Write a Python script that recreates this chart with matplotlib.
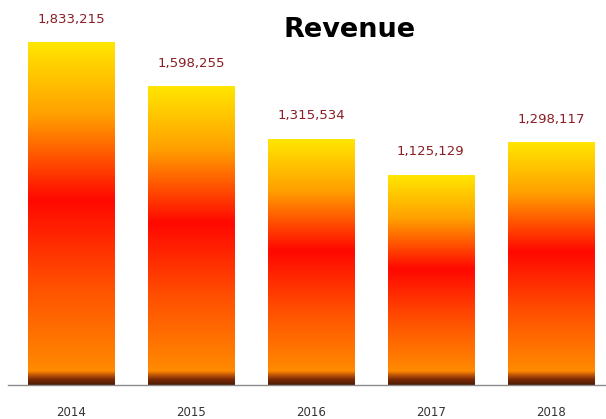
import numpy as np
import matplotlib
matplotlib.use("Agg")
import matplotlib.pyplot as plt
from matplotlib.colors import LinearSegmentedColormap

years = ["2014", "2015", "2016", "2017", "2018"]
revenue = [1833215, 1598255, 1315534, 1125129, 1298117]

# vertical fill: yellow top, red middle, orange toward the base
fill = LinearSegmentedColormap.from_list(
    "fill",
    [(0.0, "#ffe600"), (0.22, "#ffa000"), (0.48, "#ff0800"),
     (0.75, "#ff5200"), (1.0, "#ff8a00")],
)
base = LinearSegmentedColormap.from_list(
    "base", [(0.0, "#ff8a00"), (0.25, "#c65a08"), (0.6, "#7a2a05"), (1.0, "#4a1a04")]
)

fig = plt.figure(figsize=(6.06, 4.19), dpi=100)
ax = fig.add_axes([8 / 606, 34 / 419, 598 / 606, 385 / 419])

x = np.arange(len(years))
width = 0.72
ymax = 2063700
band = 75000  # dark strip at the foot of each bar

grad = np.linspace(0, 1, 256).reshape(-1, 1)
for xi, val in zip(x, revenue):
    left, right = xi - width / 2, xi + width / 2
    ax.imshow(grad, cmap=fill, aspect="auto", origin="upper",
              extent=(left, right, band, val), zorder=2, interpolation="bicubic")
    ax.imshow(grad, cmap=base, aspect="auto", origin="upper",
              extent=(left, right, 0, band), zorder=2, interpolation="bicubic")
    ax.text(xi, val + 0.045 * ymax, f"{val:,}", ha="center", va="bottom",
            fontsize=9.5, color="#8a1c24", family="DejaVu Sans")

ax.set_xlim(-0.525, 4.46)
ax.set_ylim(0, ymax)
ax.set_xticks(x)
ax.set_xticklabels(years, fontsize=8.5, color="#333333")
ax.tick_params(axis="x", length=0, pad=15)
ax.set_yticks([])
for side in ["top", "left", "right"]:
    ax.spines[side].set_visible(False)
ax.spines["bottom"].set_color("#8a8a8a")
ax.spines["bottom"].set_linewidth(1)

fig.text(350 / 606, 1 - 30 / 419, "Revenue", ha="center", va="center",
         fontsize=19.5, fontweight="bold", color="black")

fig.savefig("out.png", dpi=100)
